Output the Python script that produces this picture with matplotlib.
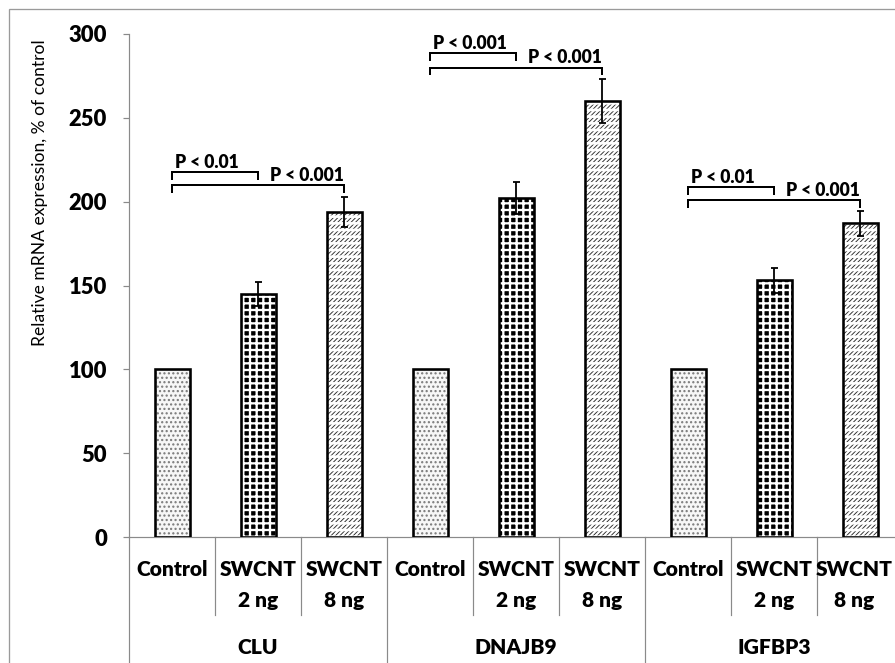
import matplotlib
matplotlib.use("Agg")
import matplotlib.pyplot as plt
from matplotlib.patches import Rectangle
from matplotlib.lines import Line2D
from matplotlib.transforms import blended_transform_factory

# ---------------- data ----------------
groups = ["CLU", "DNAJB9", "IGFBP3"]
conditions = ["Control", "SWCNT\n2 ng", "SWCNT\n8 ng"]
clu_values = [100, 145, 194]
dnajb9_values = [100, 202, 260]
igfbp3_values = [100, 153, 187]
clu_errors = [0, 7, 9]
dnajb9_errors = [0, 9.5, 13]
igfbp3_errors = [0, 7.5, 7.5]
# significance brackets: (control vs 2 ng, control vs 8 ng)
p_labels = [["P < 0.01", "P < 0.001"],
            ["P < 0.001", "P < 0.001"],
            ["P < 0.01", "P < 0.001"]]
bracket_levels = [[217.5, 210], [288.5, 280], [208.5, 201]]
yticks = [0, 50, 100, 150, 200, 250, 300]

values = [clu_values, dnajb9_values, igfbp3_values]
errors = [clu_errors, dnajb9_errors, igfbp3_errors]

# ---------------- figure ----------------
DPI = 80
W, H = 895, 663
def pt(px):
    return px * 72.0 / DPI

plt.rcParams["font.family"] = ["Lato", "DejaVu Sans"]
fig = plt.figure(figsize=(W / DPI, H / DPI), dpi=DPI)

# outer gray frame (cropped on right/bottom)
fig.patches.append(Rectangle((9 / W, -0.2), 2.0, 1.2 - 9 / H, transform=fig.transFigure,
                             fill=False, edgecolor="#9a9a9a", linewidth=pt(1.3), zorder=0))

left_px, zero_px, top_px, slot_px = 129, 537, 34, 86
ax = fig.add_axes([left_px / W, (H - zero_px) / H, 9 * slot_px / W, (zero_px - top_px) / H])
ax.set_xlim(-0.5, 8.5)
ax.set_ylim(0, 300)
ax.patch.set_alpha(0)

GRAY = "#8a8a8a"
for s in ["top", "right"]:
    ax.spines[s].set_visible(False)
for s in ["left", "bottom"]:
    ax.spines[s].set_color(GRAY)
    ax.spines[s].set_linewidth(pt(1.2))
ax.set_yticks(yticks)
ax.set_yticklabels([str(t) for t in yticks], fontsize=pt(22), fontweight="heavy")
ax.tick_params(axis="y", direction="out", length=pt(6), width=pt(1.2), color=GRAY, pad=pt(16))
ax.set_xticks([])

bar_w = 35 / slot_px
edge_lw = pt(2.6)

def hatch_lw(p, lw):
    if hasattr(p, "set_hatch_linewidth"):
        p.set_hatch_linewidth(lw)

for gi in range(len(groups)):
    for ci in range(len(conditions)):
        x = gi * 3 + ci
        v = values[gi][ci]
        if ci == 0:
            with plt.rc_context({"hatch.linewidth": pt(1.4)}):
                b = ax.bar(x, v, width=bar_w, color="#f7f7f7", edgecolor="#7a7a7a",
                           hatch="...", linewidth=0, zorder=2)
            hatch_lw(b[0], pt(1.4))
        elif ci == 1:
            with plt.rc_context({"hatch.linewidth": pt(2.3)}):
                b = ax.bar(x, v, width=bar_w, color="black", edgecolor="white",
                           hatch="++", linewidth=0, zorder=2)
            hatch_lw(b[0], pt(2.3))
        else:
            with plt.rc_context({"hatch.linewidth": pt(0.9)}):
                b = ax.bar(x, v, width=bar_w, color="white", edgecolor="#2a2a2a",
                           hatch="//////", linewidth=0, zorder=2)
            hatch_lw(b[0], pt(0.9))
            with plt.rc_context({"hatch.linewidth": pt(2.6)}):
                b2 = ax.bar(x, v, width=bar_w, color="none", edgecolor="white",
                            hatch="--", linewidth=0, zorder=2.5)
            hatch_lw(b2[0], pt(2.6))
        ax.bar(x, v, width=bar_w, fill=False, edgecolor="black", linewidth=edge_lw, zorder=3)
        e = errors[gi][ci]
        if e > 0:
            ax.errorbar(x, v, yerr=e, fmt="none", ecolor="black", elinewidth=pt(1.8),
                        capsize=pt(3.5), capthick=pt(1.8), zorder=4)

    # significance brackets
    x0 = gi * 3
    for k in range(2):
        x1 = x0 + 1 + k
        lvl = bracket_levels[gi][k]
        drop = 4
        ax.plot([x0, x0, x1, x1], [lvl - drop, lvl, lvl, lvl - drop], color="black",
                linewidth=pt(2.0), solid_joinstyle="miter", zorder=5, clip_on=False)
        if k == 0:
            ax.text(x0 + 0.04, lvl + 2.5, p_labels[gi][k], ha="left", va="baseline",
                    fontsize=pt(17.5), fontweight="heavy", zorder=6)
        else:
            ax.text(x1 - 0.0, lvl + 2.5, p_labels[gi][k], ha="right", va="baseline",
                    fontsize=pt(17.5), fontweight="heavy", zorder=6)

# ---------------- category axis ----------------
trans = blended_transform_factory(ax.transData, fig.transFigure)
def fy(px):
    return 1 - px / H

n_slots = len(groups) * len(conditions)
for gi, g in enumerate(groups):
    for ci, c in enumerate(conditions):
        x = gi * 3 + ci
        if x == n_slots - 1:
            x -= 6 / slot_px   # nudged left to stay inside the picture, as in the original
        for li, line in enumerate(c.split("\n")):
            ax.text(x, fy(570 + 30 * li), line, transform=trans, ha="center", va="center",
                    fontsize=pt(21), fontweight="heavy", clip_on=False)
    ax.text(gi * 3 + 1, fy(647), g, transform=trans, ha="center", va="center",
            fontsize=pt(21), fontweight="heavy", clip_on=False)

for i in range(n_slots):
    xb = i - 0.5
    y_end = fy(680) if i % 3 == 0 else fy(615)
    ax.add_line(Line2D([xb, xb], [fy(zero_px), y_end], transform=trans, color=GRAY,
                       linewidth=pt(1.2), clip_on=False))

fig.text(40 / W, fy(193), "Relative mRNA expression, % of control", rotation=90,
         ha="center", va="center", fontsize=pt(17.5))

fig.savefig("out.png", dpi=DPI)
